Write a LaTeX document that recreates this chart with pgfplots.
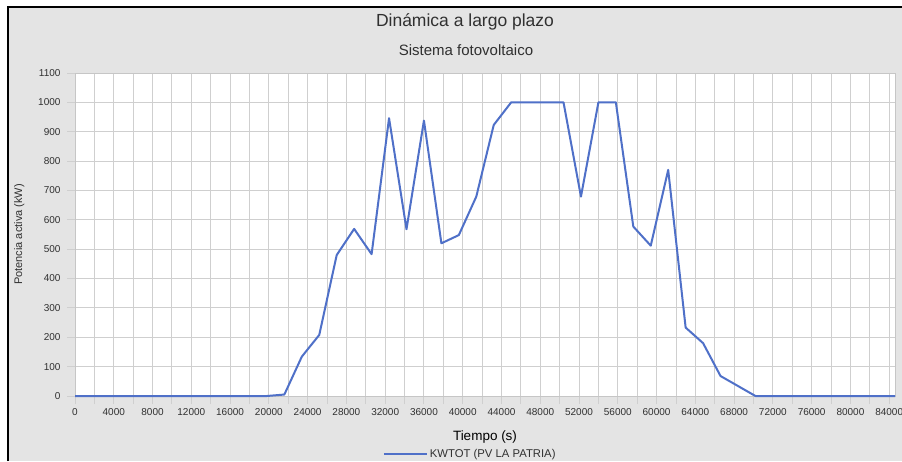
\documentclass[border=0pt]{standalone}
\usepackage{pgfplots}
\pgfplotsset{compat=1.18}
\usepackage{fontspec}
\setmainfont{Liberation Sans}

\definecolor{bggrey}{HTML}{E4E4E4}
\definecolor{gridgrey}{HTML}{CFCFCF}
\definecolor{pvblue}{HTML}{4F70C8}
\definecolor{txtgrey}{HTML}{303030}

\begin{document}
\begin{tikzpicture}
% page and grey chart background
\useasboundingbox (0pt,0pt) rectangle (902pt,461pt);
\clip (0pt,0pt) rectangle (902pt,461pt);
\fill[white] (0pt,0pt) rectangle (902pt,461pt);
\fill[bggrey] (8pt,0pt) rectangle (902pt,454pt);
\draw[black, line width=2pt] (8pt,0pt) -- (8pt,454pt) -- (903pt,454pt);

\begin{axis}[
    at={(75pt,65pt)},
    anchor=south west,
    scale only axis,
    width=820pt,
    height=323pt,
    xmin=0, xmax=84600,
    ymin=0, ymax=1100,
    clip=false,
    axis background/.style={fill=white},
    axis line style={draw=gray!45},
    xtick={0,4000,...,84000},
    minor xtick={2000,6000,...,82000},
    ytick={0,100,...,1100},
    grid=both,
    major grid style={gridgrey, line width=0.9pt},
    minor grid style={gridgrey, line width=0.9pt},
    tick align=outside,
    major tick length=8pt,
    minor tick length=8pt,
    tick style={gridgrey, line width=0.9pt},
    xtick pos=bottom, ytick pos=left,
    scaled x ticks=false,
    /pgf/number format/assume math mode=true,
    /pgf/number format/set thousands separator={},
    ticklabel style={font=\fontsize{10}{12}\selectfont, text=txtgrey},
    xticklabel style={yshift=-1pt},
    yticklabel style={xshift=-3pt},
    xlabel={Tiempo (s)},
    xlabel style={font=\fontsize{13.5}{15}\selectfont, text=black, yshift=-8pt},
    ylabel={Potencia activa (kW)},
    ylabel style={font=\fontsize{11}{13}\selectfont, text=txtgrey, yshift=7pt},
    legend style={at={(0.482,-0.181)}, anchor=center, draw=none, fill=none,
        font=\fontsize{11.3}{13}\selectfont, text=txtgrey, inner sep=0pt,
        /tikz/every even column/.append style={column sep=0pt}},
    legend image code/.code={\draw[#1] (0pt,0pt) -- (43pt,0pt);},
    legend cell align=left,
]
\addplot[pvblue, line width=2pt, line join=round] coordinates {
    (0,0) (19800,0) (21600,5) (23400,134) (25200,208) (27000,480)
    (28800,569) (30600,483) (32400,946) (34200,568) (36000,938)
    (37800,520) (39600,548) (41400,679) (43200,923) (45000,1000)
    (46800,1000) (48600,1000) (50400,1000) (52200,679) (54000,1000)
    (55800,1000) (57600,577) (59400,512) (61200,770) (63000,233)
    (64800,180) (66600,68) (68400,34) (70200,0) (84600,0)
};
\addlegendentry{KWTOT (PV LA PATRIA)}
\end{axis}

\node[font=\fontsize{17.5}{20}\selectfont, text=txtgrey] at (465pt,439pt) {Dinámica a largo plazo};
\node[font=\fontsize{15}{17}\selectfont, text=txtgrey] at (466pt,411pt) {Sistema fotovoltaico};
\end{tikzpicture}
\end{document}
